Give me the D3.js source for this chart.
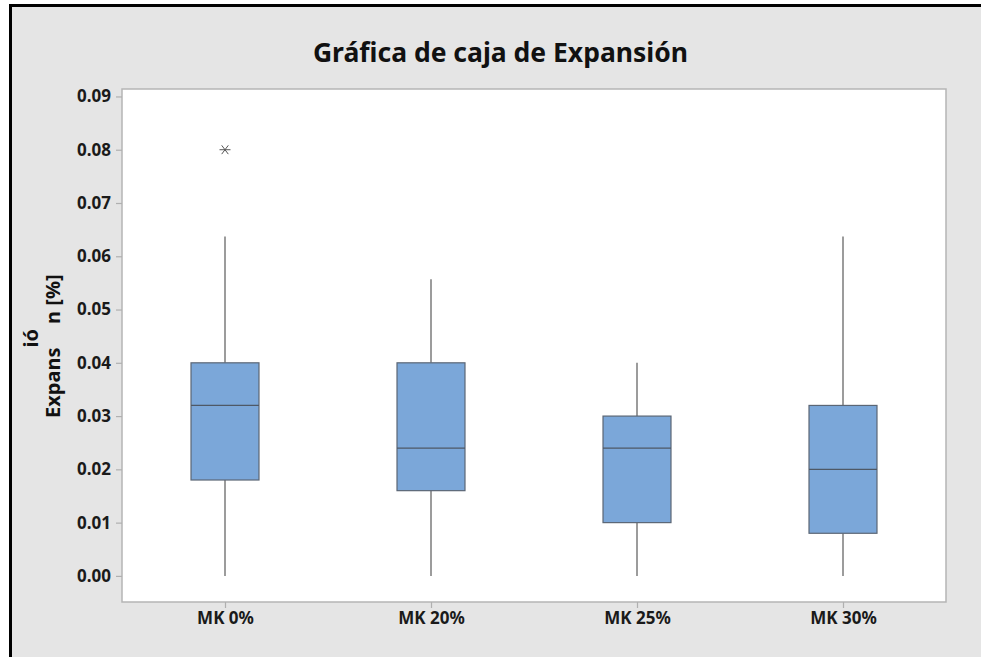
<!DOCTYPE html>
<html><head><meta charset="utf-8">
<script src="https://cdn.jsdelivr.net/npm/d3@7"></script>
<style>
html,body{margin:0;padding:0;background:#fff;}
svg{display:block;}
text{font-family:"Noto Sans","Open Sans",sans-serif;}
</style></head>
<body><svg id="c" width="981" height="657"></svg>
<script>
const categories = ["MK 0%", "MK 20%", "MK 25%", "MK 30%"];
const whiskerLow  = [0.000, 0.000, 0.000, 0.000];
const q1          = [0.018, 0.016, 0.010, 0.008];
const median      = [0.032, 0.024, 0.024, 0.020];
const q3          = [0.040, 0.040, 0.030, 0.032];
const whiskerHigh = [0.0637, 0.0557, 0.040, 0.0637];
const outliers    = [[0.080], [], [], []];
const yTicks = [0.00, 0.01, 0.02, 0.03, 0.04, 0.05, 0.06, 0.07, 0.08, 0.09];
const title = "Gráfica de caja de Expansión";

const svg = d3.select("#c");
const W = 981, H = 657;
const plot = {left:122, right:946, top:89, bottom:602};

// background frame
svg.append("rect").attr("x",10).attr("y",5).attr("width",W-10).attr("height",H-5).attr("fill","#e5e5e5");
svg.append("line").attr("x1",10).attr("x2",W).attr("y1",5.5).attr("y2",5.5).attr("stroke","#000").attr("stroke-width",3);
svg.append("line").attr("x1",10.5).attr("x2",10.5).attr("y1",4).attr("y2",H).attr("stroke","#000").attr("stroke-width",3);

// plot area
svg.append("rect").attr("x",plot.left).attr("y",plot.top)
  .attr("width",plot.right-plot.left).attr("height",plot.bottom-plot.top)
  .attr("fill","#fff").attr("stroke","#b5b5b5").attr("stroke-width",1.5);

const x = d3.scalePoint().domain(categories).range([plot.left, plot.right]).padding(0.5);
const y = d3.scaleLinear().domain([-0.0049, 0.0914]).range([plot.bottom, plot.top]);
const bw = x.step()*0.33;

// axes
const yAxis = d3.axisLeft(y).tickValues(yTicks).tickFormat(d3.format(".2f")).tickSize(6).tickPadding(5);
const gy = svg.append("g").attr("transform",`translate(${plot.left},0)`).call(yAxis);
const xAxis = d3.axisBottom(x).tickSize(6).tickPadding(4);
const gx = svg.append("g").attr("transform",`translate(0,${plot.bottom})`).call(xAxis);
[gy,gx].forEach(g=>{
  g.select(".domain").remove();
  g.selectAll(".tick line").attr("stroke","#b0b0b0").attr("stroke-width",1.2);
  g.selectAll(".tick text").attr("fill","#1a1a1a").attr("font-size",17).attr("font-weight","bold")
    .style("font-family",'"Noto Sans","Open Sans",sans-serif');
});

// boxes
const data = categories.map((c,i)=>({c, lo:whiskerLow[i], q1:q1[i], med:median[i], q3:q3[i], hi:whiskerHigh[i], out:outliers[i]}));
const g = svg.append("g");
data.forEach(d=>{
  const cx = x(d.c);
  g.append("line").attr("x1",cx).attr("x2",cx).attr("y1",y(d.q3)).attr("y2",y(d.hi)).attr("stroke","#5a5a5a").attr("stroke-width",1.2);
  g.append("line").attr("x1",cx).attr("x2",cx).attr("y1",y(d.lo)).attr("y2",y(d.q1)).attr("stroke","#5a5a5a").attr("stroke-width",1.2);
  g.append("rect").attr("x",cx-bw/2).attr("y",y(d.q3)).attr("width",bw).attr("height",y(d.q1)-y(d.q3))
    .attr("fill","#7ba7d9").attr("stroke","#5b6675").attr("stroke-width",1.2);
  g.append("line").attr("x1",cx-bw/2).attr("x2",cx+bw/2).attr("y1",y(d.med)).attr("y2",y(d.med)).attr("stroke","#4e5866").attr("stroke-width",1.2);
  d.out.forEach(v=>{
    const s = 5.5, py = y(v);
    const star = g.append("g").attr("transform",`translate(${cx},${py})`).attr("stroke","#555").attr("stroke-width",1);
    star.append("line").attr("x1",-s).attr("x2",s).attr("y1",0).attr("y2",0);
    star.append("line").attr("x1",-s*0.6).attr("x2",s*0.6).attr("y1",-s*0.8).attr("y2",s*0.8);
    star.append("line").attr("x1",-s*0.6).attr("x2",s*0.6).attr("y1",s*0.8).attr("y2",-s*0.8);
  });
});

// title
svg.append("text").attr("x",500.5).attr("y",62).attr("text-anchor","middle")
  .attr("font-size",26.5).attr("font-weight","bold").attr("fill","#111").text(title);

// y-axis label (with the displaced "ió")
const yl = svg.append("text").attr("transform","translate(60,418) rotate(-90)")
  .attr("font-size",20).attr("font-weight","bold").attr("fill","#111");
yl.append("tspan").text("Expans");
yl.append("tspan").attr("dy",-22).text("ió");
yl.append("tspan").attr("dy",22).text(" n [%]");
</script></body></html>
